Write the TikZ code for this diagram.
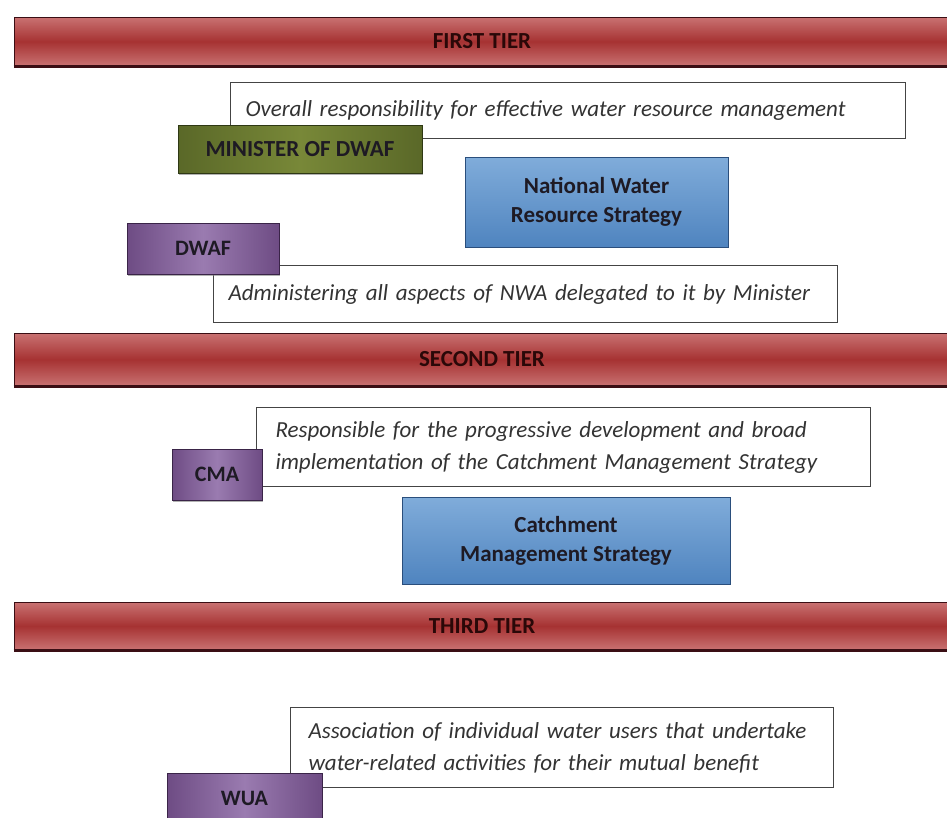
\documentclass[tikz,border=0pt]{standalone}
\usepackage{fontspec}
\setmainfont{Carlito}
\usetikzlibrary{shadows}
\definecolor{barlight}{HTML}{C97272}
\definecolor{barmid}{HTML}{A63232}
\definecolor{bardark}{HTML}{3A0E14}
\definecolor{bartext}{HTML}{2A0808}
\definecolor{greenedge}{HTML}{5A6828}
\definecolor{greenmid}{HTML}{788838}
\definecolor{greenline}{HTML}{2E3814}
\definecolor{purpedge}{HTML}{6E4C84}
\definecolor{purpmid}{HTML}{9A7BB0}
\definecolor{purpline}{HTML}{3A2448}
\definecolor{bluetop}{HTML}{80ACDA}
\definecolor{bluebot}{HTML}{4F84BF}
\definecolor{blueline}{HTML}{2A4E7C}
\definecolor{boxline}{HTML}{444444}
\definecolor{desctext}{HTML}{333333}
\definecolor{labtext}{HTML}{1E1A24}
\tikzset{
  tierbar/.style={draw=bardark, line width=0.6pt, top color=barlight, bottom color=barlight, middle color=barmid,
    minimum width=936pt, text=bartext, font=\fontsize{23}{27}\selectfont\bfseries, inner sep=0pt},
  descbox/.style={draw=boxline, line width=1pt, fill=white, anchor=north west, align=left, inner xsep=15pt, inner ysep=0pt,
    text=desctext, font=\fontsize{23}{32}\selectfont\itshape},
  greenbox/.style={draw=greenline, line width=0.8pt, left color=greenedge, right color=greenedge, middle color=greenmid,
    text=labtext, font=\fontsize{23}{27}\selectfont\bfseries, inner sep=0pt,
    drop shadow={shadow xshift=1pt, shadow yshift=-2pt, opacity=0.6}},
  purplebox/.style={draw=purpline, line width=0.8pt, left color=purpedge, right color=purpedge, middle color=purpmid,
    text=labtext, font=\fontsize{22}{26}\selectfont\bfseries, inner sep=0pt,
    drop shadow={shadow xshift=1pt, shadow yshift=-2pt, opacity=0.6}},
  bluebox/.style={draw=blueline, line width=0.8pt, top color=bluetop, bottom color=bluebot,
    text=labtext, font=\fontsize{23}{29}\selectfont\bfseries, align=center, inner sep=0pt}
}
\begin{document}
\begin{tikzpicture}[x=1pt, y=-1pt]
\useasboundingbox (0,0) rectangle (947,817);
\fill[white] (0,0) rectangle (947,817);
% tier banners
\node[tierbar, minimum height=49pt] (tier1) at (482,41.5) {FIRST TIER};
\draw[bardark, line width=3pt] (tier1.south west) -- (tier1.south east);
\node[tierbar, minimum height=53pt] (tier2) at (482,359.5) {SECOND TIER};
\draw[bardark, line width=3pt] (tier2.south west) -- (tier2.south east);
\node[tierbar, minimum height=48pt] (tier3) at (482,626) {THIRD TIER};
\draw[bardark, line width=3pt] (tier3.south west) -- (tier3.south east);
% description boxes
\node[descbox, text width=645pt, minimum height=56pt] (overall) at (230,82)
  {\mbox{Overall responsibility for effective water resource management}};
\node[descbox, text width=594pt, minimum height=57pt] (admin) at (213,265)
  {\mbox{Administering all aspects of NWA delegated to it by Minister}};
\node[descbox, inner xsep=19pt, text width=576pt, minimum height=79pt] (resp) at (256,407)
  {\mbox{Responsible for the progressive development and broad}\\\mbox{implementation of the Catchment Management Strategy}};
\node[descbox, inner xsep=18pt, text width=507pt, minimum height=80pt] (assoc) at (290,707)
  {\mbox{Association of individual water users that undertake}\\\mbox{water-related activities for their mutual benefit}};
% label boxes
\node[greenbox, minimum width=244pt, minimum height=48pt] (minister) at (300,149) {MINISTER OF DWAF};
\node[bluebox, minimum width=263pt, minimum height=90pt] (nwrs) at (596.5,202) {National Water\\Resource Strategy};
\node[purplebox, minimum width=152pt, minimum height=51pt] (dwaf) at (203,248.5) {DWAF};
\node[purplebox, minimum width=90pt, minimum height=51pt] (cma) at (217,474.5) {CMA};
\node[bluebox, minimum width=328pt, minimum height=87pt] (cms) at (566,540.5) {Catchment\\Management Strategy};
\node[purplebox, minimum width=155pt, minimum height=50pt] (wua) at (244.5,798) {WUA};
\end{tikzpicture}
\end{document}
